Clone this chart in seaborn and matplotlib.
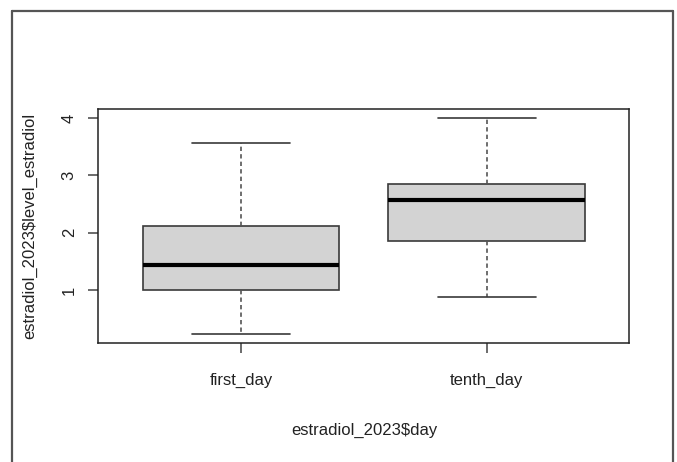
import pandas as pd
import matplotlib.pyplot as plt
import seaborn as sns
from matplotlib.lines import Line2D

# five-number summaries (min, Q1, median, Q3, max)
days = ["first_day", "tenth_day"]
first_day = [0.23, 1.00, 1.44, 2.12, 3.56]
tenth_day = [0.87, 1.86, 2.57, 2.85, 4.00]

df = pd.DataFrame({
    "day": [days[0]] * len(first_day) + [days[1]] * len(tenth_day),
    "level_estradiol": first_day + tenth_day,
})

sns.set_theme(style="ticks")
plt.rcParams["font.family"] = ["Liberation Sans", "DejaVu Sans"]

fig = plt.figure(figsize=(6.77, 4.62), dpi=100)
ax = fig.add_axes([0.1452, 0.2569, 0.7846, 0.5072])

sns.boxplot(
    data=df, x="day", y="level_estradiol", order=days, ax=ax,
    color="#d3d3d3", saturation=1, width=0.8, linecolor="#3a3a3a", linewidth=1.2,
    whis=1.5, capwidths=0.4,
    medianprops=dict(color="black", linewidth=3),
    whiskerprops=dict(color="#555555", linestyle=(0, (2.6, 1.9))),
    capprops=dict(color="#3a3a3a"),
)

ax.set_xlim(0.42 - 1, 2.58 - 1)
ax.set_ylim(0.07, 4.16)
ax.set_yticks([1, 2, 3, 4])

for side in ["top", "right", "bottom", "left"]:
    ax.spines[side].set_visible(True)
    ax.spines[side].set_color("#222222")
    ax.spines[side].set_linewidth(1.1)

ax.tick_params(axis="both", direction="out", length=7.5, width=1.1, color="#444444",
               labelsize=12, labelcolor="#222222")
ax.tick_params(axis="x", pad=14)
ax.tick_params(axis="y", pad=8)
for lab in ax.get_yticklabels():
    lab.set_rotation(90)
    lab.set_verticalalignment("center")

ax.set_xlabel("estradiol_2023$day", fontsize=12, color="#222222", va="center")
ax.set_ylabel("estradiol_2023$level_estradiol", fontsize=12, color="#222222", va="center")
ax.xaxis.set_label_coords(0.5, (343.3 - 430) / 234.3)
ax.yaxis.set_label_coords((30 - 98.3) / 531.2, 0.5)

# outer frame of the screenshot
W, H = 677, 462
frame = dict(color="#555555", linewidth=1.6, transform=fig.transFigure)
fig.add_artist(Line2D([12 / W, 12 / W], [0, 1 - 10.5 / H], **frame))
fig.add_artist(Line2D([12 / W, 673 / W], [1 - 10.5 / H, 1 - 10.5 / H], **frame))
fig.add_artist(Line2D([673 / W, 673 / W], [0, 1 - 10.5 / H], **frame))

fig.savefig("out.png", dpi=100)
